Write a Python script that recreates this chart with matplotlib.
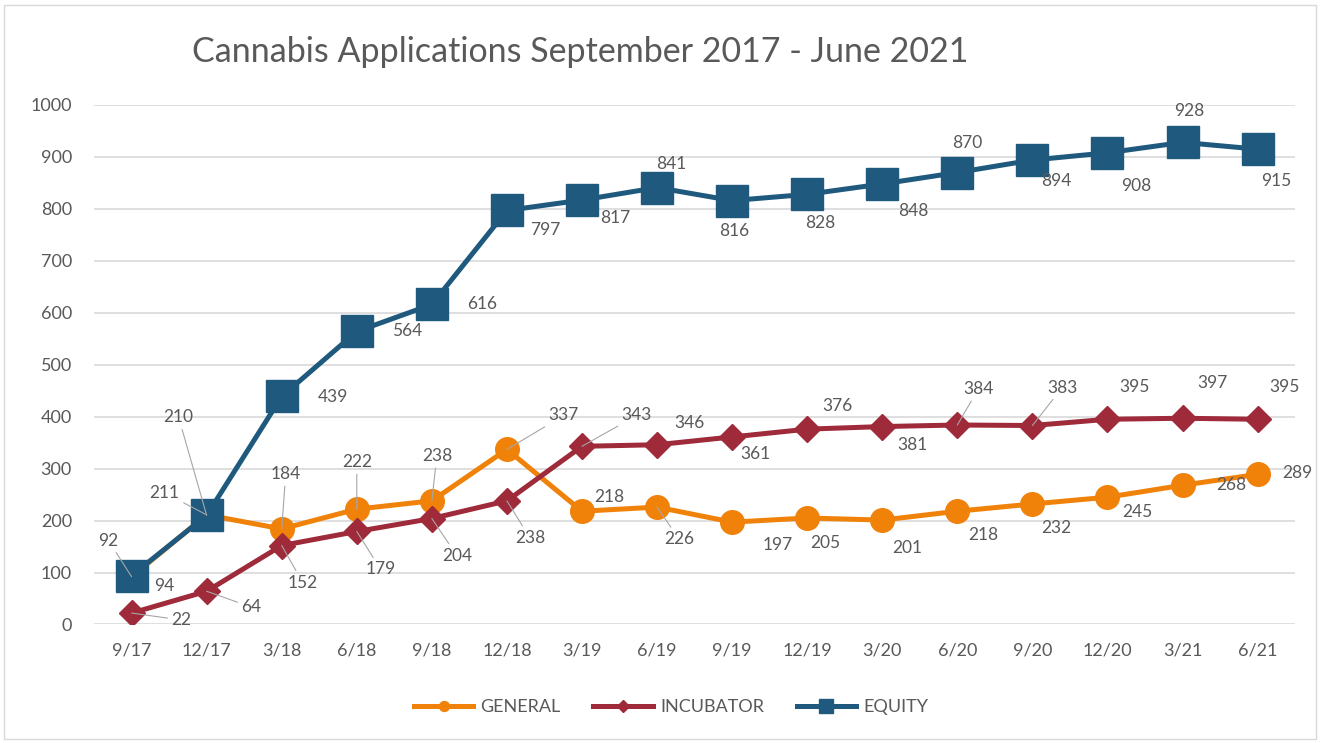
"""Cannabis applications line chart, Sept 2017 - June 2021."""

import matplotlib

matplotlib.use("Agg")

import matplotlib.pyplot as plt
from matplotlib.patches import Rectangle

plt.rcParams["font.family"] = ["Lato", "DejaVu Sans"]

quarters = ["9/17", "12/17", "3/18", "6/18", "9/18", "12/18", "3/19", "6/19",
            "9/19", "12/19", "3/20", "6/20", "9/20", "12/20", "3/21", "6/21"]
general = [92, 211, 184, 222, 238, 337, 218, 226, 197, 205, 201, 218, 232, 245, 268, 289]
incubator = [22, 64, 152, 179, 204, 238, 343, 346, 361, 376, 381, 384, 383, 395, 397, 395]
equity = [94, 210, 439, 564, 616, 797, 817, 841, 816, 828, 848, 870, 894, 908, 928, 915]

# label offsets in pixels (dx, dy up), and which labels get a leader line
general_offsets = [(-23, 36), (-42, 22), (4, 55), (0, 47), (5, 45), (57, 34), (27, 14), (22, -32),
                   (46, -23), (18, -25), (25, -28), (26, -24), (24, -24), (30, -15), (49, 0), (40, 1)]
general_leaders = [0, 1, 2, 3, 4, 5, 7]
incubator_offsets = [(50, -7), (45, -16), (21, -37), (24, -38), (25, -37), (23, -37), (55, 31), (32, 22),
                     (23, -17), (30, 23), (30, -18), (21, 36), (30, 38), (27, 32), (30, 35), (27, 32)]
incubator_leaders = [0, 1, 2, 3, 4, 5, 6, 11, 12]
equity_offsets = [(33, -10), (-28, 98), (51, -1), (50, 0), (50, 0), (38, -20), (33, -18), (14, 24),
                  (2, -30), (13, -29), (31, -27), (10, 30), (24, -21), (29, -33), (7, 31), (19, -32)]
equity_leaders = [1]

TEXT = "#595959"
GRID = "#D9D9D9"


def add_labels(ax, values, offsets, leaders):
    for i, (value, (dx, dy)) in enumerate(zip(values, offsets)):
        arrow = None
        if i in leaders:
            arrow = dict(arrowstyle="-", color="#A6A6A6", lw=0.8, shrinkA=1, shrinkB=0)
        ax.annotate(str(value), xy=(i, value), xytext=(dx, dy), textcoords="offset pixels",
                    ha="center", va="center", fontsize=12.5, color=TEXT,
                    arrowprops=arrow, zorder=5)


def main():
    fig = plt.figure(figsize=(13.21, 7.43), dpi=100)
    ax = fig.add_axes([0.0712, 0.1595, 0.9092, 0.6992])
    x = range(len(quarters))

    ax.plot(x, general, color="#F0820A", lw=3.6, marker="o", ms=17, label="GENERAL", zorder=3)
    ax.plot(x, incubator, color="#9E2A3A", lw=3.6, marker="D", ms=13.5, label="INCUBATOR", zorder=3)
    ax.plot(x, equity, color="#1F5A7E", lw=3.6, marker="s", ms=23, label="EQUITY", zorder=3)

    add_labels(ax, general, general_offsets, general_leaders)
    add_labels(ax, incubator, incubator_offsets, incubator_leaders)
    add_labels(ax, equity, equity_offsets, equity_leaders)

    ax.set_xlim(-0.5, len(quarters) - 0.5)
    ax.set_ylim(0, 1000)
    ax.set_yticks(range(0, 1001, 100))
    ax.set_xticks(list(x))
    ax.set_xticklabels(quarters)
    ax.grid(axis="y", color=GRID, lw=1.2)
    ax.set_axisbelow(True)
    for spine in ax.spines.values():
        spine.set_visible(False)
    ax.tick_params(length=0, labelsize=13, colors=TEXT)
    ax.tick_params(axis="y", pad=16)
    ax.tick_params(axis="x", pad=13)

    fig.text(0.1453, 0.930, "Cannabis Applications September 2017 - June 2021",
             fontsize=24.5, color=TEXT, ha="left", va="center")

    handles, labels = ax.get_legend_handles_labels()
    leg = fig.legend(handles, labels, loc="center", bbox_to_anchor=(0.508, 0.048), ncol=3,
                     frameon=False, fontsize=13, markerscale=0.42, handlelength=3.3,
                     columnspacing=1.8, handletextpad=0.4)
    for text in leg.get_texts():
        text.set_color(TEXT)

    fig.patches.append(Rectangle((0.003, 0.006), 0.993, 0.987, transform=fig.transFigure,
                                 fill=False, edgecolor="#D9D9D9", lw=1))

    fig.savefig("out.png", dpi=100)
    plt.close(fig)


if __name__ == "__main__":
    main()
